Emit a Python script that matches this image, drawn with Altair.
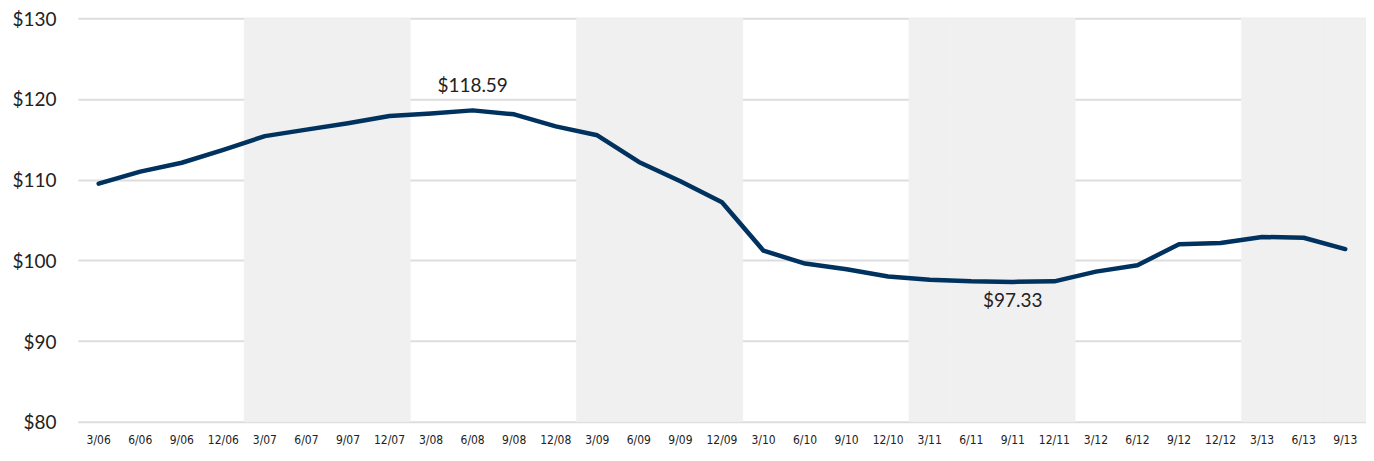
import altair as alt
import pandas as pd

quarters = ["3/06","6/06","9/06","12/06","3/07","6/07","9/07","12/07","3/08","6/08","9/08","12/08",
            "3/09","6/09","9/09","12/09","3/10","6/10","9/10","12/10","3/11","6/11","9/11","12/11",
            "3/12","6/12","9/12","12/12","3/13","6/13","9/13"]
values = [109.5,111.0,112.1,113.7,115.4,116.2,117.0,117.9,118.2,118.59,118.1,116.6,
          115.5,112.2,109.8,107.2,101.2,99.6,98.9,98.0,97.6,97.4,97.33,97.4,
          98.6,99.4,102.0,102.15,102.9,102.8,101.4]
shaded_years = ["07","09","11","13"]
ann_quarters = ["6/08","9/11"]
ann_texts = ["$118.59","$97.33"]
ann_dy = [-24, 19]

df = pd.DataFrame({"q": quarters, "v": values})
df["shade"] = df["q"].str.split("/").str[1].isin(shaded_years)
ann = pd.DataFrame({"q": ann_quarters, "t": ann_texts,
                    "v": [values[quarters.index(q)] for q in ann_quarters], "dy": ann_dy})

H = 404
W = 1290
xscale = alt.Scale(domain=quarters, paddingInner=0, paddingOuter=0)
xax = alt.X("q:N", scale=xscale, sort=quarters, title=None,
            axis=alt.Axis(labelAngle=0, labelFont="DejaVu Sans Condensed", labelFontSize=12,
                          labelColor="#222222", ticks=False, domain=False, labelPadding=13,
                          grid=False))
yscale = alt.Scale(domain=[80, 130], nice=False, zero=False)

bands = alt.Chart(df).transform_filter("datum.shade").mark_rect(
    color="#f0f0f0", stroke="#f0f0f0", strokeWidth=0.6).encode(
    x=xax, y=alt.value(0), y2=alt.value(H))

grid = alt.Chart(df).mark_line(opacity=0).encode(
    x=xax,
    y=alt.Y("v:Q", scale=yscale, title=None,
            axis=alt.Axis(values=[80, 90, 100, 110, 120, 130], format="$d",
                          labelFont="Lato", labelFontSize=19, labelColor="#222222",
                          ticks=False, domain=False, labelPadding=22, labelOffset=1,
                          gridColor="#dddddd", gridWidth=2)))

line = alt.Chart(df).mark_line(color="#00325f", strokeWidth=4.5, strokeCap="round",
                               strokeJoin="round").encode(
    x=xax, y=alt.Y("v:Q", scale=yscale))

texts = []
for i in range(len(ann)):
    sub = ann.iloc[[i]]
    texts.append(alt.Chart(sub).mark_text(font="Lato", fontSize=19, color="#222222",
                                          dy=int(sub["dy"].iloc[0])).encode(
        x=xax, y=alt.Y("v:Q", scale=yscale), text="t:N"))

chart = alt.layer(grid, bands, line, *texts).properties(
    width=W, height=H,
    autosize=alt.AutoSizeParams(type="none"),
    padding={"left": 70, "top": 10, "right": 0, "bottom": 30},
).configure_view(stroke=None).configure_axis(gridColor="#dddddd")

chart.save("out.html", embed_options={"renderer": "svg", "actions": False})
